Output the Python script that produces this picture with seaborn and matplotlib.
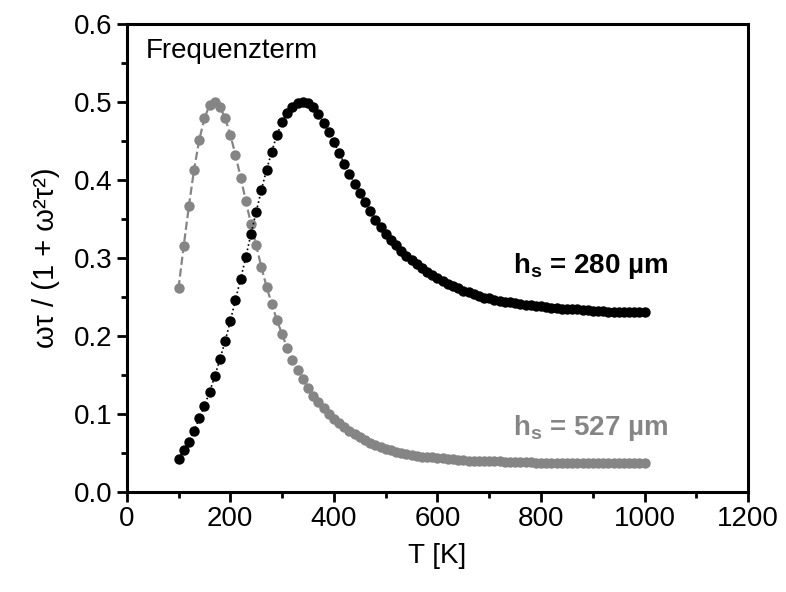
import numpy as np
import pandas as pd
import matplotlib
matplotlib.use('Agg')
import matplotlib.pyplot as plt
import seaborn as sns
from matplotlib.ticker import MultipleLocator, FormatStrFormatter

# temperature grid of the simulated curves (10 K steps)
temp_k = np.arange(100, 1010, 10)

# frequency term for h_s = 280 um (black curve)
freq_280 = [
    0.042, 0.053, 0.064, 0.078, 0.094, 0.110, 0.128, 0.148, 0.170, 0.193,
    0.219, 0.246, 0.273, 0.301, 0.331, 0.359, 0.387, 0.413, 0.436, 0.458,
    0.474, 0.486, 0.494, 0.499, 0.500, 0.499, 0.493, 0.484, 0.473, 0.461,
    0.448, 0.435, 0.421, 0.408, 0.395, 0.383, 0.371, 0.360, 0.349, 0.340,
    0.331, 0.323, 0.316, 0.309, 0.303, 0.297, 0.292, 0.287, 0.282, 0.278,
    0.274, 0.270, 0.267, 0.264, 0.261, 0.258, 0.256, 0.253, 0.251, 0.249,
    0.248, 0.246, 0.245, 0.244, 0.243, 0.242, 0.241, 0.240, 0.239, 0.238,
    0.238, 0.237, 0.236, 0.236, 0.235, 0.235, 0.234, 0.234, 0.233, 0.233,
    0.232, 0.232, 0.232, 0.231, 0.231, 0.231, 0.231, 0.230, 0.230, 0.230,
    0.230,
]

# frequency term for h_s = 527 um (grey curve)
freq_527 = [
    0.261, 0.315, 0.366, 0.413, 0.451, 0.479, 0.496, 0.500, 0.494, 0.479,
    0.458, 0.432, 0.403, 0.373, 0.343, 0.316, 0.288, 0.263, 0.241, 0.220,
    0.202, 0.184, 0.169, 0.156, 0.144, 0.133, 0.123, 0.115, 0.107, 0.100,
    0.093, 0.088, 0.083, 0.078, 0.074, 0.070, 0.066, 0.063, 0.060, 0.057,
    0.055, 0.053, 0.051, 0.050, 0.048, 0.047, 0.046, 0.045, 0.044, 0.044,
    0.043, 0.043, 0.042, 0.042, 0.041, 0.041, 0.040, 0.040, 0.040, 0.039,
    0.039, 0.039, 0.039, 0.038, 0.038, 0.038, 0.038, 0.038, 0.038, 0.037,
    0.037, 0.037, 0.037, 0.037, 0.037, 0.037, 0.037, 0.037, 0.037, 0.037,
    0.037, 0.037, 0.037, 0.037, 0.037, 0.037, 0.037, 0.037, 0.037, 0.037,
    0.037,
]

df = pd.DataFrame({'T': temp_k, 'h280': freq_280, 'h527': freq_527})

sns.set_theme(style='ticks')
plt.rcParams['font.family'] = ['Liberation Sans', 'DejaVu Sans']
plt.rcParams['mathtext.fontset'] = 'custom'
plt.rcParams['mathtext.rm'] = 'Liberation Sans'
plt.rcParams['mathtext.bf'] = 'Liberation Sans:bold'
plt.rcParams['mathtext.it'] = 'Liberation Sans:italic'
plt.rcParams['text.color'] = 'black'
plt.rcParams['axes.labelcolor'] = 'black'
plt.rcParams['xtick.color'] = 'black'
plt.rcParams['ytick.color'] = 'black'

fig = plt.figure(figsize=(7.86, 5.92), dpi=100)
ax = fig.add_axes([0.1612, 0.1694, 0.7908, 0.7901])

grey = '#858585'
sns.lineplot(data=df, x='T', y='h527', ax=ax, color=grey, linestyle='--',
             linewidth=1.6, marker='o', markersize=7.5, markeredgewidth=0,
             markerfacecolor=grey)
sns.lineplot(data=df, x='T', y='h280', ax=ax, color='black', linestyle=':',
             linewidth=1.2, marker='o', markersize=7.5, markeredgewidth=0,
             markerfacecolor='black')

ax.set_xlim(0, 1200)
ax.set_ylim(0, 0.6)
ax.xaxis.set_major_locator(MultipleLocator(200))
ax.xaxis.set_minor_locator(MultipleLocator(100))
ax.yaxis.set_major_locator(MultipleLocator(0.1))
ax.yaxis.set_minor_locator(MultipleLocator(0.05))
ax.yaxis.set_major_formatter(FormatStrFormatter('%.1f'))

for side in ['left', 'right', 'top', 'bottom']:
    ax.spines[side].set_visible(True)
    ax.spines[side].set_linewidth(2.2)
    ax.spines[side].set_color('black')

ax.tick_params(which='major', direction='out', length=7, width=2,
               labelsize=20, pad=3)
ax.tick_params(which='minor', direction='out', length=4, width=2)

ax.set_xlabel('T [K]', fontsize=20, labelpad=8)
ax.set_ylabel('ωτ / (1 + ω²τ²)', fontsize=21, labelpad=10)

ax.text(36, 0.565, 'Frequenzterm', fontsize=20, va='center', ha='left')
ax.text(746, 0.28, r'$\mathbf{h_s}$ = 280 µm', fontsize=20,
        fontweight='bold', color='black', va='baseline', ha='left')
ax.text(746, 0.073, r'$\mathbf{h_s}$ = 527 µm', fontsize=20,
        fontweight='bold', color=grey, va='baseline', ha='left')

fig.savefig('out.png', dpi=100)
